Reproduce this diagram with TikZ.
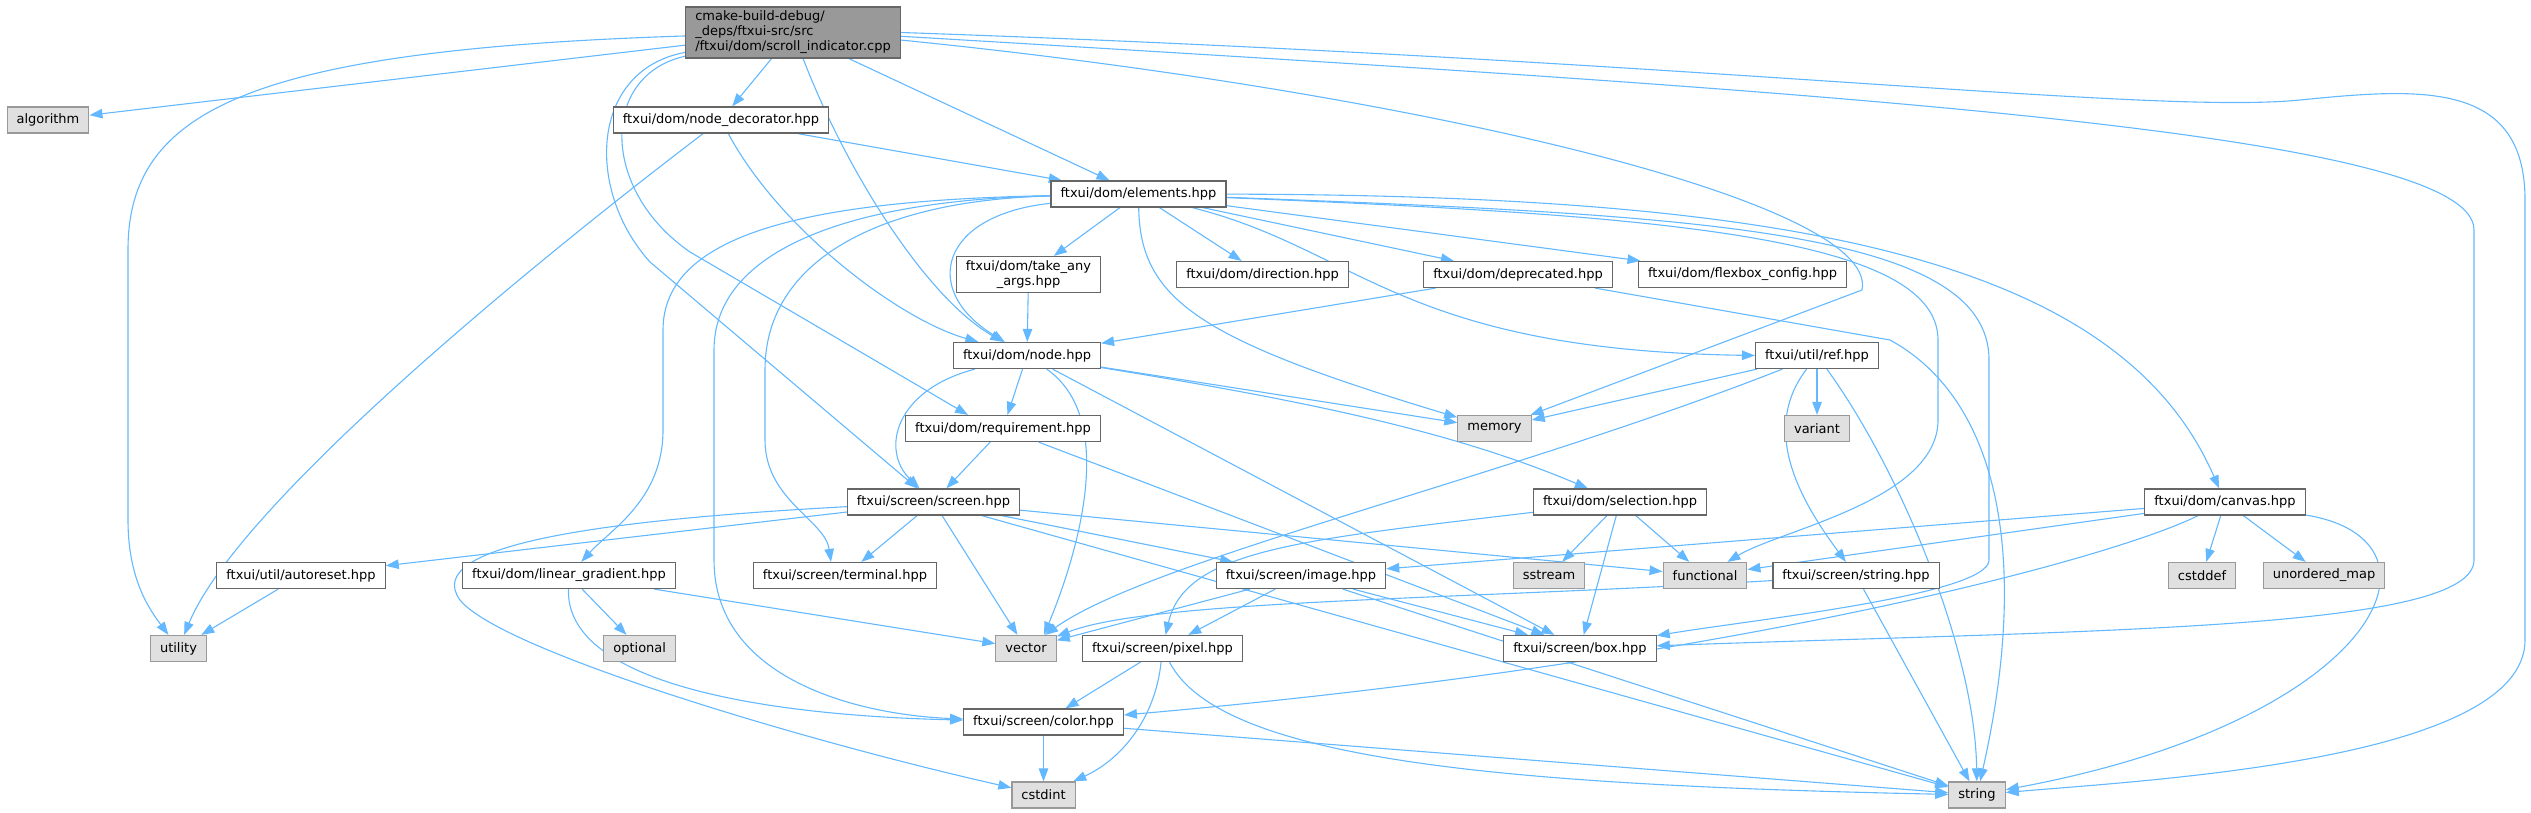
\documentclass[tikz,border=0pt]{standalone}
\usepackage{fontspec}
\setmainfont{DejaVu Sans}
\usetikzlibrary{arrows.meta,backgrounds}

\definecolor{edgeblue}{HTML}{63B8FF}
\definecolor{boxline}{HTML}{666666}
\definecolor{sysline}{HTML}{999999}
\definecolor{sysfill}{HTML}{E0E0E0}
\definecolor{rootfill}{HTML}{999999}

\begin{document}
\begin{tikzpicture}[x=1pt,y=-1pt,
  hdrbox/.style={draw=boxline, fill=white, line width=1.2pt, inner xsep=9.5pt, inner ysep=4pt,
    minimum height=26pt, font=\fontsize{13}{15}\selectfont},
  sysbox/.style={hdrbox, draw=sysline, fill=sysfill},
  rootbox/.style={hdrbox, fill=rootfill, align=left},
  dep/.style={draw=edgeblue, line width=1.1pt, -{Triangle[length=13pt,width=9.5pt]}}]

\useasboundingbox (0,0) rectangle (2531,813);

% ===== Fichier de depart =====
\node[rootbox] (root) at (793,32.5) {cmake-build-debug/\\\_deps/ftxui-src/src\\/ftxui/dom/scroll\_indicator.cpp};

% ===== En-tetes =====
\node[sysbox] (algorithm) at (48,120) {algorithm};
\node[hdrbox] (nodedec) at (721,120) {ftxui/dom/node\_decorator.hpp};
\node[hdrbox] (elements) at (1138.5,194) {ftxui/dom/elements.hpp};
\node[hdrbox, align=center] (takeany) at (1028.5,274.5) {ftxui/dom/take\_any\\\_args.hpp};
\node[hdrbox] (direction) at (1262.5,274.5) {ftxui/dom/direction.hpp};
\node[hdrbox] (deprecated) at (1518,274.5) {ftxui/dom/deprecated.hpp};
\node[hdrbox] (flexbox) at (1742.5,274.5) {ftxui/dom/flexbox\_config.hpp};
\node[hdrbox] (nodehpp) at (1027,355.5) {ftxui/dom/node.hpp};
\node[hdrbox] (ref) at (1817,355.5) {ftxui/util/ref.hpp};
\node[hdrbox] (requirement) at (1003,428.5) {ftxui/dom/requirement.hpp};
\node[sysbox] (memory) at (1494.5,428.5) {memory};
\node[sysbox] (variant) at (1817,428.5) {variant};
\node[hdrbox] (screen) at (933.5,502) {ftxui/screen/screen.hpp};
\node[hdrbox] (selection) at (1620,502) {ftxui/dom/selection.hpp};
\node[hdrbox] (canvas) at (2225,502) {ftxui/dom/canvas.hpp};
\node[hdrbox] (autoreset) at (301,575.5) {ftxui/util/autoreset.hpp};
\node[hdrbox] (lingrad) at (569,575.5) {ftxui/dom/linear\_gradient.hpp};
\node[hdrbox] (terminal) at (845,575.5) {ftxui/screen/terminal.hpp};
\node[hdrbox] (image) at (1301,575.5) {ftxui/screen/image.hpp};
\node[sysbox] (sstream) at (1549,575.5) {sstream};
\node[sysbox] (functional) at (1705,575.5) {functional};
\node[hdrbox] (strhpp) at (1856,575.5) {ftxui/screen/string.hpp};
\node[sysbox] (cstddef) at (2202,575.5) {cstddef};
\node[sysbox] (unordmap) at (2324,575.5) {unordered\_map};
\node[sysbox] (utility) at (178.5,648.5) {utility};
\node[sysbox] (optional) at (639.7,648.5) {optional};
\node[sysbox] (vector) at (1026,648.5) {vector};
\node[hdrbox] (pixel) at (1162.5,648.5) {ftxui/screen/pixel.hpp};
\node[hdrbox] (box) at (1580,648.5) {ftxui/screen/box.hpp};
\node[hdrbox] (color) at (1043.5,722) {ftxui/screen/color.hpp};
\node[sysbox] (cstdint) at (1043.5,795) {cstdint};
\node[sysbox] (string) at (1977,795) {string};

\begin{scope}[on background layer]
% ===== Depuis le fichier de depart =====
\draw[dep] (root) -- (algorithm);
\draw[dep] (root) .. controls (250,50) and (128,110) .. (128,250) -- (128,520)
  .. controls (128,580) and (150,610) .. (utility);
\draw[dep] (root) -- (nodedec);
\draw[dep] (root) -- (elements);
\draw[dep] (root) .. controls (850,180) and (930,300) .. (nodehpp);
\draw[dep] (root) .. controls (590,70) and (585,190) .. (650,262) -- (screen);
\draw[dep] (root) .. controls (600,75) and (600,190) .. (690,252) -- ([xshift=-35pt]requirement.north);
\draw[dep] (root.-4) .. controls (1400,90) and (1880,200) .. (1862,290) -- (memory);
\draw[dep] (root.-2) .. controls (1800,90) and (2474,130) .. (2474,230) -- (2474,560)
  .. controls (2474,630) and (2100,630) .. (box);
\draw[dep] (root.east) .. controls (1700,60) and (2150,115) .. (2300,100)
  .. controls (2420,88) and (2525,80) .. (2525,200) -- (2525,640)
  .. controls (2525,760) and (2150,780) .. (string);

% ===== node_decorator.hpp =====
\draw[dep] (nodedec) .. controls (550,250) and (240,500) .. (utility);
\draw[dep] (nodedec) .. controls (780,230) and (900,320) .. (nodehpp);
\draw[dep] (nodedec) -- (elements);

% ===== elements.hpp =====
\draw[dep] (elements) -- (takeany);
\draw[dep] (elements) -- (direction);
\draw[dep] (elements) -- (deprecated);
\draw[dep] (elements) -- (flexbox);
\draw[dep] (elements) .. controls (940,215) and (920,290) .. (nodehpp);
\draw[dep] (elements) .. controls (820,200) and (663,230) .. (663,330) -- (663,430)
  .. controls (663,500) and (610,530) .. (lingrad);
\draw[dep] (elements) .. controls (850,200) and (714,250) .. (714,350) -- (714,560)
  .. controls (714,680) and (860,715) .. (color);
\draw[dep] (elements) .. controls (880,200) and (765,260) .. (765,370) -- (765,440)
  .. controls (765,500) and (825,520) .. ([xshift=-14pt]terminal.north);
\draw[dep] (elements) .. controls (1140,300) and (1200,340) .. (memory);
\draw[dep] (elements) .. controls (1360,250) and (1400,350) .. (ref.west);
\draw[dep] (elements) .. controls (1800,195) and (2120,260) .. (canvas);
\draw[dep] (elements) .. controls (1650,215) and (1938,235) .. (1938,340) -- (1938,420)
  .. controls (1938,500) and (1780,530) .. (functional);
\draw[dep] (elements) .. controls (1700,215) and (1989,230) .. (1989,360) -- (1989,560)
  .. controls (1989,595) and (1750,620) .. (box);

% ===== take_any_args.hpp, deprecated.hpp =====
\draw[dep] (takeany) -- (nodehpp);
\draw[dep] (deprecated) -- (nodehpp);
\draw[dep] (deprecated) -- (1890,340) .. controls (2000,400) and (2030,560) .. (string);

% ===== node.hpp =====
\draw[dep] (nodehpp) -- (requirement);
\draw[dep] (nodehpp) .. controls (895,390) and (880,450) .. (screen);
\draw[dep] (nodehpp) .. controls (1120,420) and (1075,560) .. ([xshift=18pt]vector.north);
\draw[dep] (nodehpp) -- (box);
\draw[dep] (nodehpp) -- (memory);
\draw[dep] (nodehpp) .. controls (1300,400) and (1450,430) .. (selection);

% ===== requirement.hpp =====
\draw[dep] (requirement) -- (screen);
\draw[dep] (requirement) -- (box);

% ===== ref.hpp =====
\draw[dep] (ref) -- (memory);
\draw[dep] (ref) -- (variant);
\draw[dep] (ref) .. controls (1500,480) and (1150,560) .. (vector);
\draw[dep] (ref) .. controls (1760,430) and (1800,500) .. (strhpp);
\draw[dep] (ref) .. controls (1900,470) and (1975,650) .. (string);

% ===== selection.hpp =====
\draw[dep] (selection) -- (sstream);
\draw[dep] (selection) -- (functional);
\draw[dep] (selection) -- (box);
\draw[dep] (selection) .. controls (1300,540) and (1185,550) .. (pixel);

% ===== screen.hpp =====
\draw[dep] (screen) -- (autoreset);
\draw[dep] (screen) .. controls (600,520) and (420,545) .. (460,600)
  .. controls (500,650) and (800,740) .. (cstdint);
\draw[dep] (screen) -- (terminal);
\draw[dep] (screen) -- (vector);
\draw[dep] (screen) -- (image);
\draw[dep] (screen) -- (string);
\draw[dep] (screen) -- (functional);

% ===== niveaux du bas =====
\draw[dep] (autoreset) -- (utility);
\draw[dep] (lingrad) -- (optional);
\draw[dep] (lingrad) -- (vector);
\draw[dep] (lingrad) .. controls (565,680) and (750,715) .. (color);
\draw[dep] (image) -- (vector);
\draw[dep] (image) -- (pixel);
\draw[dep] (image) -- (box);
\draw[dep] (image) -- (string);
\draw[dep] (pixel) -- (color);
\draw[dep] (pixel) .. controls (1155,720) and (1120,760) .. (cstdint);
\draw[dep] (pixel) .. controls (1220,760) and (1500,785) .. (string);
\draw[dep] (color) -- (cstdint);
\draw[dep] (color) -- (string);
\draw[dep] (strhpp) .. controls (1450,600) and (1150,600) .. (vector);
\draw[dep] (strhpp) -- (string);

% ===== canvas.hpp =====
\draw[dep] (canvas) -- (functional);
\draw[dep] (canvas) -- (image);
\draw[dep] (canvas) .. controls (2120,555) and (1750,660) .. (color);
\draw[dep] (canvas) -- (cstddef);
\draw[dep] (canvas) -- (unordmap);
\draw[dep] (canvas) .. controls (2460,540) and (2380,720) .. (string);
\end{scope}

\end{tikzpicture}
\end{document}
